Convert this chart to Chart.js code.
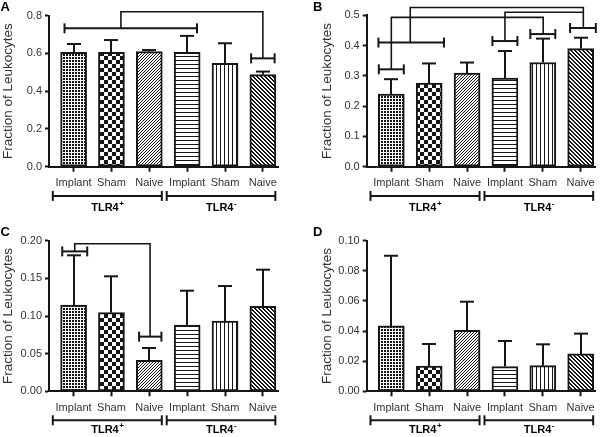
<!DOCTYPE html>
<html><head><meta charset="utf-8">
<script src="https://cdn.jsdelivr.net/npm/chart.js@4.4.1/dist/chart.umd.min.js"></script>
<style>
html,body{margin:0;padding:0;background:#fff}
body{width:600px;height:437px;position:relative;overflow:hidden}
.pn{position:absolute}
canvas{display:block}
</style></head><body>
<div class="pn" style="left:0;top:0;width:300px;height:218px"><canvas id="cA" width="300" height="218"></canvas></div>
<div class="pn" style="left:300px;top:0;width:300px;height:218px"><canvas id="cB" width="300" height="218"></canvas></div>
<div class="pn" style="left:0;top:218px;width:300px;height:219px"><canvas id="cC" width="300" height="219"></canvas></div>
<div class="pn" style="left:300px;top:218px;width:300px;height:219px"><canvas id="cD" width="300" height="219"></canvas></div>
<script>
// ---------- data ----------
const categories = ['Implant','Sham','Naive','Implant','Sham','Naive'];
const groupNames = ['TLR4','TLR4'];
const groupSigns = ['+','-'];
const groupStart = [-0.55, 2.46];
const groupEnd   = [2.33, 5.33];
const yTitle = 'Fraction of Leukocytes';

const meanA = [0.606, 0.606, 0.610, 0.606, 0.548, 0.488];
const semA  = [0.044, 0.065, 0.008, 0.087, 0.106, 0.016];
const ticksA = ['0.0','0.2','0.4','0.6','0.8'];

const meanB = [0.240, 0.276, 0.309, 0.293, 0.344, 0.390];
const semB  = [0.049, 0.065, 0.035, 0.089, 0.079, 0.036];
const ticksB = ['0.0','0.1','0.2','0.3','0.4','0.5'];

const meanC = [0.1146, 0.1044, 0.0412, 0.0880, 0.0934, 0.1128];
const semC  = [0.0660, 0.0483, 0.0163, 0.0456, 0.0464, 0.0487];
const ticksC = ['0.00','0.05','0.10','0.15','0.20'];

const meanD = [0.0434, 0.0168, 0.0405, 0.0164, 0.0170, 0.0248];
const semD  = [0.0466, 0.0146, 0.0190, 0.0170, 0.0142, 0.0135];
const ticksD = ['0.00','0.02','0.04','0.06','0.08','0.10'];

// significance brackets: [xFrom, xTo, y] in data units
const bracketsA = [[-0.24, 3.26, 0.733], [4.69, 5.31, 0.574]];
const linksA = [[[1.25,0.733],[1.25,0.821],[5.0,0.821],[5.0,0.574]]];
const bracketsB = [[-0.33, 0.33, 0.3216], [-0.34, 1.39, 0.410], [2.67, 3.33, 0.415], [3.67, 4.33, 0.438], [4.72, 5.40, 0.458]];
const linksB = [
  [[0,0.3216],[0,0.493],[4.01,0.493],[4.01,0.438]],
  [[0.50,0.410],[0.50,0.526],[5.07,0.526],[5.07,0.458]],
  [[3.0,0.415],[3.0,0.510],[5.07,0.510]]
];
const bracketsC = [[-0.30, 0.36, 0.1858], [1.73, 2.32, 0.0726]];
const linksC = [[[0.03,0.1858],[0.03,0.196],[2.02,0.196],[2.02,0.0726]]];
const bracketsD = [];
const linksD = [];

const patternKinds = ['dots','checker','diagUp','hlines','vlines','diagDown'];

// ---------- rendering ----------
const FONT = 'Arial, "Liberation Sans", Helvetica, sans-serif';
Chart.defaults.font.family = FONT;
const INK = '#161616';

function makePattern(kind){
  const t = document.createElement('canvas');
  let s = 4;
  if (kind==='dots') s=3; if (kind==='checker') s=8; if (kind==='diagUp') s=3;
  t.width=s; t.height=s;
  const g=t.getContext('2d');
  g.fillStyle='#fff'; g.fillRect(0,0,s,s);
  g.fillStyle=INK;
  if (kind==='dots'){ g.fillRect(0,0,2,2); }
  else if (kind==='checker'){ g.fillRect(0,0,4,4); g.fillRect(4,4,4,4); }
  else if (kind==='diagUp'){ for(let i=0;i<s;i++) g.fillRect(s-1-i,i,1,1); }
  else if (kind==='hlines'){ g.fillRect(0,0,s,1); }
  else if (kind==='vlines'){ g.fillRect(0,0,1,s); }
  else if (kind==='diagDown'){ for(let i=0;i<s;i++){ g.fillRect(i,i,1,1); g.fillRect((i+1)%s,i,1,1);} }
  return g.createPattern(t,'repeat');
}
const patterns = patternKinds.map(makePattern);

function seg(ctx,x1,y1,x2,y2){ ctx.beginPath(); ctx.moveTo(x1,y1); ctx.lineTo(x2,y2); ctx.stroke(); }

const overlay = {
  id:'overlay',
  afterDatasetsDraw(chart, args, o){
    const ctx=chart.ctx, xs=chart.scales.x, ys=chart.scales.y;
    ctx.save();
    ctx.strokeStyle=INK; ctx.lineWidth=2; ctx.lineCap='butt';
    o.mean.forEach((m,i)=>{
      const x=Math.round(xs.getPixelForValue(i)), y0=ys.getPixelForValue(m), y1=ys.getPixelForValue(m+o.sem[i]);
      seg(ctx,x,y0,x,y1); seg(ctx,x-7,y1,x+7,y1);
    });
    ctx.lineWidth=1.6;
    o.links.forEach(path=>{
      ctx.beginPath();
      path.forEach((p,k)=>{ const X=xs.getPixelForValue(p[0]), Y=ys.getPixelForValue(p[1]); k?ctx.lineTo(X,Y):ctx.moveTo(X,Y); });
      ctx.stroke();
    });
    ctx.lineWidth=2;
    o.brackets.forEach(b=>{
      const X1=xs.getPixelForValue(b[0]), X2=xs.getPixelForValue(b[1]), Y=ys.getPixelForValue(b[2]);
      seg(ctx,X1,Y,X2,Y); seg(ctx,X1,Y-5,X1,Y+5); seg(ctx,X2,Y-5,X2,Y+5);
    });
    ctx.restore();
  },
  afterDraw(chart, args, o){
    const ctx=chart.ctx, xs=chart.scales.x, area=chart.chartArea;
    ctx.save();
    ctx.strokeStyle=INK; ctx.lineWidth=2;
    const yb = area.bottom + o.groupLineOff;
    for(let g=0; g<groupNames.length; g++){
      const X1=xs.getPixelForValue(groupStart[g]), X2=xs.getPixelForValue(groupEnd[g]);
      seg(ctx,X1,yb,X2,yb); seg(ctx,X1,yb-5,X1,yb+5); seg(ctx,X2,yb-5,X2,yb+5);
      const cx=(X1+X2)/2, cy=area.bottom+o.groupLabelOff;
      ctx.font='bold 11px '+FONT; const w1=ctx.measureText(groupNames[g]).width;
      ctx.font='bold 8px '+FONT; const w2=ctx.measureText(groupSigns[g]).width;
      const x0=cx-(w1+w2)/2;
      ctx.fillStyle='#000'; ctx.textBaseline='middle'; ctx.textAlign='left';
      ctx.font='bold 11px '+FONT; ctx.fillText(groupNames[g],x0,cy);
      ctx.font='bold 8px '+FONT; ctx.fillText(groupSigns[g],x0+w1+0.5,cy-4);
    }
    ctx.font='bold 13px '+FONT; ctx.textBaseline='alphabetic'; ctx.textAlign='left'; ctx.fillStyle='#000';
    ctx.fillText(o.letter, o.letterX, o.letterY);
    ctx.restore();
  }
};

function makeChart(id, mean, sem, tickLabels, brackets, links, L){
  const tickVals = tickLabels.map(parseFloat);
  new Chart(document.getElementById(id), {
    type:'bar',
    data:{ datasets:[{
      data: mean.map((v,i)=>({x:i,y:v})),
      backgroundColor: patterns,
      borderColor: INK, borderWidth: 2, borderSkipped: false,
      barThickness: 26
    }]},
    options:{
      responsive:false, animation:false, devicePixelRatio:1,
      layout:{ padding:{ left:L.padLeft, right:L.padRight, top:L.padTop, bottom:0 } },
      plugins:{ legend:{display:false}, tooltip:{enabled:false},
        overlay:{ mean, sem, brackets, links, letter:L.letter, letterX:L.letterX, letterY:L.letterY,
                  groupLineOff:L.groupLineOff, groupLabelOff:L.groupLabelOff } },
      scales:{
        x:{ type:'linear', min:-0.65, max:5.4, offset:false,
            afterBuildTicks: s=>{ s.ticks = categories.map((c,i)=>({value:i})); },
            afterFit: s=>{ s.height = L.xHeight; },
            ticks:{ autoSkip:false, maxRotation:0, padding:5, color:'#333', font:{size:11},
                    callback:(v)=>categories[v] },
            grid:{ display:true, offset:false, drawOnChartArea:false, drawTicks:true, tickLength:5, tickWidth:2, tickColor:INK },
            border:{ display:true, width:2, color:INK } },
        y:{ min:0, max:tickVals[tickVals.length-1],
            afterBuildTicks: s=>{ s.ticks = tickVals.map(v=>({value:v})); },
            afterFit: s=>{ s.width = L.yWidth; },
            ticks:{ padding:3, color:'#333', font:{size:11},
                    callback:(v)=>tickLabels[tickVals.indexOf(v)] },
            title:{ display:true, text:yTitle, color:'#333', font:{size:13.5}, padding:{top:0,bottom:0} },
            grid:{ display:true, drawOnChartArea:false, drawTicks:true, tickLength:4, tickWidth:2, tickColor:INK },
            border:{ display:true, width:2, color:INK } }
      }
    },
    plugins:[overlay]
  });
}

makeChart('cA', meanA, semA, ticksA, bracketsA, linksA,
  {padLeft:0, yWidth:49, padRight:22, padTop:15.7, xHeight:51.3, letter:'A', letterX:0.5, letterY:11, groupLineOff:29.2, groupLabelOff:41});
makeChart('cB', meanB, semB, ticksB, bracketsB, linksB,
  {padLeft:19.5, yWidth:47.2, padRight:4, padTop:15.3, xHeight:51.3, letter:'B', letterX:13, letterY:11, groupLineOff:29.2, groupLabelOff:41});
makeChart('cC', meanC, semC, ticksC, bracketsC, linksC,
  {padLeft:0, yWidth:49, padRight:22, padTop:22.7, xHeight:45.7, letter:'C', letterX:0.5, letterY:18.3, groupLineOff:29, groupLabelOff:38.5});
makeChart('cD', meanD, semD, ticksD, bracketsD, linksD,
  {padLeft:19.5, yWidth:47.2, padRight:4, padTop:22.7, xHeight:45.7, letter:'D', letterX:13, letterY:18.3, groupLineOff:29, groupLabelOff:38.5});
</script>
</body></html>
